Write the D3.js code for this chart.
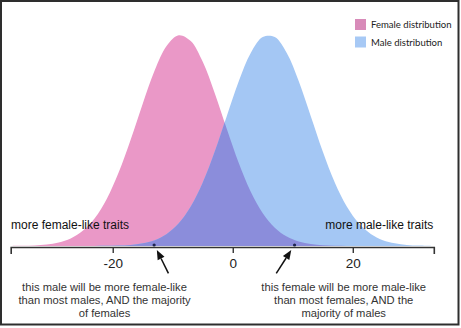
<!DOCTYPE html>
<html><head><meta charset="utf-8">
<script src="https://cdn.jsdelivr.net/npm/d3@7"></script>
<style>html,body{margin:0;padding:0;background:#fff}svg{display:block}</style>
</head><body>
<svg id="chart" width="461" height="328"></svg>
<script>
// ---- data ----
const traitX = [-37,-35,-33,-31,-29,-27,-25,-23,-21,-19,-17,-15,-13,-11,-9,-7,-5,-3,-1,1,3,5,7,9,11,13,15,17,19,21,23,25,27,29,31,33];
const femaleDensity = [0.00036,0.00105,0.00286,0.0072,0.0168,0.0361,0.0717,0.1316,0.2230,0.3491,0.5049,0.6746,0.8324,0.9489,0.9991,0.9717,0.8730,0.7245,0.5554,0.3932,0.2572,0.1554,0.0867,0.0447,0.0213,0.0094,0.0038,0.0014,0.0005,0.0002,0.0001,0,0,0,0,0];
const maleDensity = [0,0,0,0,0,0.00002,0.00007,0.00024,0.00072,0.00203,0.00527,0.0126,0.0278,0.0569,0.1073,0.1871,0.3011,0.4478,0.6151,0.7804,0.9146,0.9901,0.9901,0.9146,0.7804,0.6151,0.4478,0.3011,0.1871,0.1073,0.0569,0.0278,0.0126,0.00527,0.00203,0.00072];
const seriesNames = ["Female distribution", "Male distribution"];
const tickValues = [-20, 0, 20];
const tickLabels = ["-20", "0", "20"];
const sideLabels = ["more female-like traits", "more male-like traits"];
const markedTraits = [-13.1, 10.3];
const annotationLines = [
  ["this male will be more female-like", "than most males, AND the majority", "of females"],
  ["this female will be more male-like", "than most females, AND the", "majority of males"]
];

// ---- styles ----
const pink = "#ea98c7", blue = "#a4c7f4", purple = "#8b8ddb";
const legendPink = "#d88bb9", legendBlue = "#a7c9f5";

const svg = d3.select("#chart");
const x = d3.scaleLinear().domain([-37, 33.5]).range([10.7, 433.8]);
const y = d3.scaleLinear().domain([0, 1]).range([246, 35]);
const axisY = 247;

// frame
svg.append("rect").attr("x", 1).attr("y", 1).attr("width", 457.5).attr("height", 323.5)
  .attr("fill", "#fff").attr("stroke", "#2e2e2e").attr("stroke-width", 2);

const defs = svg.append("defs");
const rows = traitX.map((t, i) => ({t, f: femaleDensity[i], m: maleDensity[i]}));
const areaF = d3.area().x(d => x(d.t)).y0(y(0)).y1(d => y(d.f)).curve(d3.curveCatmullRom);
const areaM = d3.area().x(d => x(d.t)).y0(y(0)).y1(d => y(d.m)).curve(d3.curveCatmullRom);

defs.append("clipPath").attr("id", "clipF").append("path").attr("d", areaF(rows));

svg.append("path").attr("d", areaF(rows)).attr("fill", pink);
svg.append("path").attr("d", areaM(rows)).attr("fill", blue);
svg.append("path").attr("d", areaM(rows)).attr("fill", purple).attr("clip-path", "url(#clipF)");

// axis
const axis = d3.axisBottom(x).tickValues(tickValues)
  .tickFormat((d, i) => tickLabels[i])
  .tickSizeInner(6).tickSizeOuter(7).tickPadding(5.4);
const gA = svg.append("g").attr("transform", `translate(0,${axisY})`).call(axis);
gA.select(".domain").attr("stroke", "#333").attr("stroke-width", 1.6);
gA.selectAll(".tick line").attr("stroke", "#333").attr("stroke-width", 1.4);
gA.selectAll(".tick text").attr("font-family", "'Liberation Sans', Arial, sans-serif")
  .attr("font-size", 13.5).attr("fill", "#222");

// side labels
svg.append("text").attr("x", 11).attr("y", 229.3).text(sideLabels[0])
  .attr("font-family", "'Liberation Sans', Arial, sans-serif").attr("font-size", 12).attr("fill", "#111");
svg.append("text").attr("x", 433.3).attr("y", 229.3).attr("text-anchor", "end").text(sideLabels[1])
  .attr("font-family", "'Liberation Sans', Arial, sans-serif").attr("font-size", 12).attr("fill", "#111");

// marked points, arrows, annotations
const arrowGeom = [
  {tip: [2.7, 5], tail: [14.3, 28.3], cx: 104.5},
  {tip: [-3.3, 5], tail: [-18.3, 28.3], cx: 343.7}
];
markedTraits.forEach((t, i) => {
  const px = x(t), py = y(0) - 1;
  svg.append("circle").attr("cx", px).attr("cy", py).attr("r", 1.6).attr("fill", "#1d2350");
  const g = arrowGeom[i];
  const tx = px + g.tip[0], ty = py + g.tip[1];
  const sx = px + g.tail[0], sy = py + g.tail[1];
  const ang = Math.atan2(ty - sy, tx - sx);
  const hl = 9.5, hw = 3.8;
  const bx = tx - hl * Math.cos(ang), by = ty - hl * Math.sin(ang);
  svg.append("line").attr("x1", sx).attr("y1", sy).attr("x2", bx).attr("y2", by)
    .attr("stroke", "#111").attr("stroke-width", 1.5);
  const nx = -Math.sin(ang), ny = Math.cos(ang);
  svg.append("polygon").attr("points",
    [[tx, ty], [bx + nx * hw, by + ny * hw], [bx - nx * hw, by - ny * hw]].map(p => p.join(",")).join(" "))
    .attr("fill", "#111");
  annotationLines[i].forEach((ln, j) => {
    svg.append("text").attr("x", g.cx).attr("y", 290.5 + j * 13.35).attr("text-anchor", "middle")
      .attr("font-family", "'Liberation Sans', Arial, sans-serif").attr("font-size", 11.2)
      .attr("fill", "#333").text(ln);
  });
});

// legend
const legColors = [legendPink, legendBlue];
seriesNames.forEach((name, i) => {
  const yy = 19 + i * 17.5;
  svg.append("rect").attr("x", 355).attr("y", yy).attr("width", 11).attr("height", 11).attr("fill", legColors[i]);
  svg.append("text").attr("class", "leg").attr("x", 371).attr("y", yy + 9).text(name)
    .attr("font-family", "Lato, 'Open Sans', sans-serif").attr("font-size", 10).attr("fill", "#222");
});
// fit legend font so that "Female distribution" spans ~80.6 px like the original
const legTexts = svg.selectAll("text.leg");
const w0 = legTexts.nodes()[0].getComputedTextLength();
if (w0 > 0) legTexts.attr("font-size", 10 * 80.6 / w0);
</script>
</body></html>
